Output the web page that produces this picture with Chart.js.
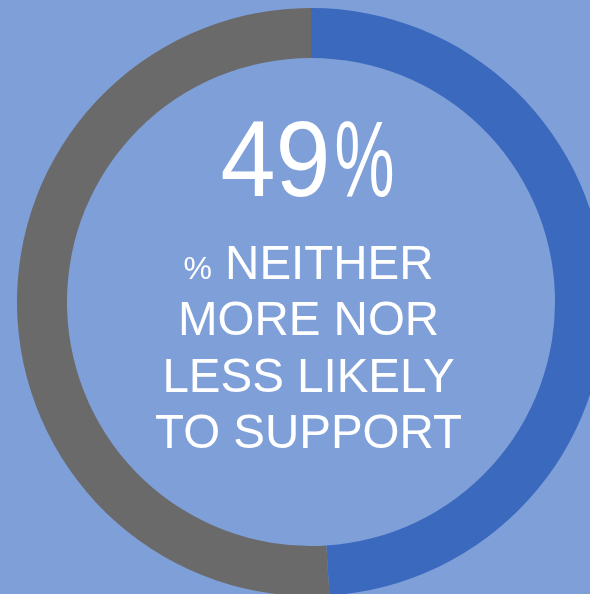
<!DOCTYPE html>
<html>
<head>
<meta charset="utf-8">
<script src="https://cdn.jsdelivr.net/npm/chart.js@4"></script>
<style>
  html, body {
    margin: 0;
    padding: 0;
    width: 590px;
    height: 594px;
    overflow: hidden;
    background: #7f9fd8;
  }
  #wrap {
    position: absolute;
    left: 17px;
    top: 8px;
    width: 588px;
    height: 588px;
  }
</style>
</head>
<body>
<div id="wrap"><canvas id="ring" width="588" height="588"></canvas></div>
<script>
// share of respondents, in percent
const labels = ["Neither more nor less likely to support", "Other"];
const values = [49, 51];
const colors = ["#3a69be", "#6a6a6a"];

const headline = String(values[0]);
const captionLines = ["NEITHER", "MORE NOR", "LESS LIKELY", "TO SUPPORT"];

const FONT = '"Liberation Sans", Arial, sans-serif';

// draw text squeezed horizontally so it spans a given width
function fillSqueezed(ctx, text, x, y, width) {
  const w = ctx.measureText(text).width;
  ctx.save();
  ctx.translate(x, y);
  ctx.scale(width / w, 1);
  ctx.fillText(text, 0, 0);
  ctx.restore();
}

// draws the big number and the caption in the hole of the ring
const centerText = {
  id: "centerText",
  afterDraw(chart) {
    const { ctx, chartArea } = chart;
    const cx = (chartArea.left + chartArea.right) / 2 - 2.5;
    const cy = (chartArea.top + chartArea.bottom) / 2;

    ctx.save();
    ctx.fillStyle = "#ffffff";
    ctx.textBaseline = "alphabetic";
    ctx.textAlign = "left";

    // headline: digits slightly narrowed, percent sign narrower still
    ctx.font = "108px " + FONT;
    const hy = cy - 106;
    fillSqueezed(ctx, headline, cx - 88, hy, 110);
    fillSqueezed(ctx, "%", cx + 26, hy, 60);

    // first caption line starts with a smaller "%"
    ctx.font = "32px " + FONT;
    const pctW = ctx.measureText("%").width;
    ctx.font = "47.5px " + FONT;
    const restW = ctx.measureText(" " + captionLines[0]).width;
    const x = cx - (pctW + restW) / 2;
    const y0 = cy - 23.5;
    ctx.font = "32px " + FONT;
    ctx.fillText("%", x, y0);
    ctx.font = "47.5px " + FONT;
    ctx.fillText(" " + captionLines[0], x + pctW, y0);

    ctx.textAlign = "center";
    for (let i = 1; i < captionLines.length; i++) {
      ctx.fillText(captionLines[i], cx, y0 + i * 56.5);
    }
    ctx.restore();
  }
};

new Chart(document.getElementById("ring"), {
  type: "doughnut",
  data: {
    labels: labels,
    datasets: [{
      data: values,
      backgroundColor: colors,
      borderWidth: 0,
      hoverOffset: 0
    }]
  },
  options: {
    responsive: false,
    animation: false,
    cutout: "83%",
    layout: { padding: 0 },
    plugins: {
      legend: { display: false },
      tooltip: { enabled: false }
    }
  },
  plugins: [centerText]
});
</script>
</body>
</html>
